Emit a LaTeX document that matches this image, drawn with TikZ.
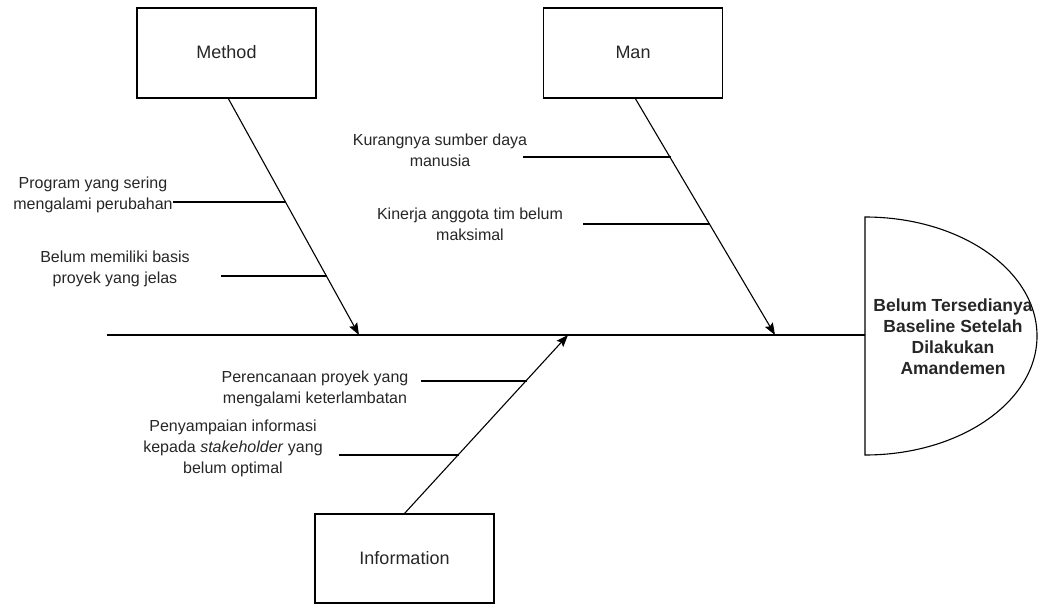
\documentclass[tikz,border=0pt]{standalone}
\usepackage{fontspec}
\setmainfont{Liberation Sans}
\usetikzlibrary{arrows.meta}
\begin{document}
\begin{tikzpicture}[x=1pt,y=-1pt,
  line width=1.1pt,
  every node/.style={font=\fontsize{16}{21}\selectfont, text=black!85},
  catbox/.style={draw, line width=1.1pt, minimum width=179pt, minimum height=90pt, inner sep=0pt},
  lbl/.style={align=center, inner sep=0pt},
  catlbl/.style={inner sep=0pt, font=\fontsize{18}{22}\selectfont},
  bone/.style={-{Stealth[length=12pt,width=9pt,inset=2pt]}},
  twig/.style={line width=1.1pt}
]
\useasboundingbox (0,0) rectangle (1038,604);

% category boxes
\node[catbox] (method) at (226.5,53) {};
\node[catlbl] (methodt) at (226.5,52) {Method};
\node[catbox] (man) at (633,53) {};
\node[catlbl] (mant) at (633,52) {Man};
\node[catbox, minimum height=89pt] (info) at (404.5,558.5) {};
\node[catlbl] (infot) at (404.5,558) {Information};

% spine and head
\coordinate (spinestart) at (107,335);
\coordinate (headleft) at (865,335);
\draw (spinestart) -- (headleft);
\draw (865,217) arc[start angle=90, end angle=-90, x radius=172pt, y radius=119pt] -- cycle;
\node[lbl, font=\bfseries\fontsize{17.5}{21}\selectfont] (effect) at (953,337)
  {Belum Tersedianya\\Baseline Setelah\\Dilakukan\\Amandemen};

% bones
\coordinate (mtip) at (359,335);
\coordinate (mantip) at (775,335);
\coordinate (itip) at (568,335);
\draw[bone] (228,98) -- (mtip);
\draw[bone] (635,98) -- (mantip);
\draw[bone] (info.north) -- (itip);

% Method causes
\node[lbl] (c1) at (93,194.5) {Program yang sering\\mengalami perubahan};
\coordinate (c1a) at (173,202);
\coordinate (c1b) at (285.5,202);
\draw[twig] (c1a) -- (c1b);
\node[lbl] (c2) at (115,269) {Belum memiliki basis\\proyek yang jelas};
\coordinate (c2a) at (221,276);
\coordinate (c2b) at (327,276);
\draw[twig] (c2a) -- (c2b);

% Man causes
\node[lbl] (c3) at (440,150.5) {Kurangnya sumber daya\\manusia};
\coordinate (c3a) at (523,157);
\coordinate (c3b) at (670.5,157);
\draw[twig] (c3a) -- (c3b);
\node[lbl] (c4) at (470,224) {Kinerja anggota tim belum\\maksimal};
\coordinate (c4a) at (583,224);
\coordinate (c4b) at (709.5,224);
\draw[twig] (c4a) -- (c4b);

% Information causes
\node[lbl] (c5) at (315,389) {Perencanaan proyek yang\\mengalami keterlambatan};
\coordinate (c5a) at (421,381);
\coordinate (c5b) at (526.5,381);
\draw[twig] (c5a) -- (c5b);
\node[lbl] (c6) at (233,448) {Penyampaian informasi\\kepada \textit{stakeholder} yang\\belum optimal};
\coordinate (c6a) at (339,455);
\coordinate (c6b) at (459,455);
\draw[twig] (c6a) -- (c6b);
\end{tikzpicture}
\end{document}
